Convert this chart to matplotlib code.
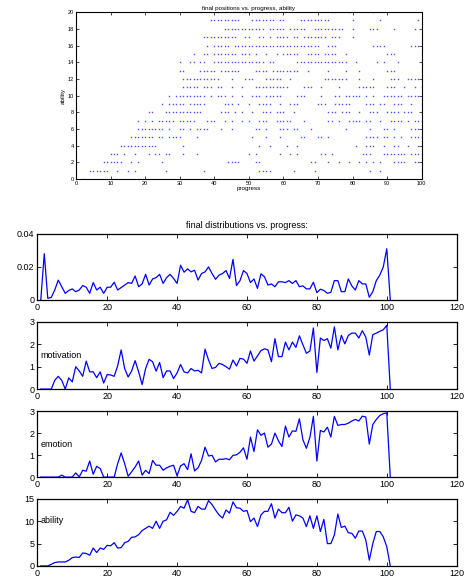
import numpy as np
import matplotlib
matplotlib.use('Agg')
import matplotlib.pyplot as plt

plt.rcParams['font.family'] = ['Liberation Sans', 'DejaVu Sans']

# ---- final positions (progress values at each ability level) ----
ab_00 = [2]
ab_01 = [4, 5, 6, 7, 8, 9, 12, 15, 17, 26, 37, 53, 54, 55, 56, 63, 69, 85, 88, 100]
ab_02 = [8, 9, 10, 11, 12, 13, 16, 18, 25, 44, 45, 46, 47, 52, 53, 68, 69, 73, 76, 79, 82, 84, 86, 88,
         92, 93, 94, 95, 98, 99, 100]
ab_03 = [10, 11, 12, 14, 17, 21, 23, 24, 26, 27, 31, 35, 50, 52, 59, 62, 64, 71, 72, 74, 83, 84, 85,
         89, 90, 91, 92, 93, 94, 95, 97, 98, 99, 100]
ab_04 = [13, 14, 15, 16, 17, 18, 19, 20, 21, 22, 23, 31, 53, 56, 61, 64, 81, 84, 85, 86, 89, 92, 93,
         96, 99, 100]
ab_05 = [16, 17, 18, 19, 20, 21, 22, 24, 25, 27, 28, 29, 30, 35, 51, 55, 59, 65, 66, 70, 71, 73,
         84, 85, 86, 87, 89, 90, 92, 94, 97, 98, 99, 100]
ab_06 = [18, 19, 20, 21, 22, 23, 24, 25, 27, 30, 31, 33, 35, 36, 37, 38, 42, 45, 52, 53, 55, 59, 60,
         61, 63, 64, 68, 78, 85, 89, 90, 92, 97, 98, 99, 100]
ab_07 = [18, 20, 22, 24, 25, 26, 27, 28, 30, 31, 32, 33, 34, 38, 39, 40, 43, 45, 48, 50, 53, 54, 55,
         58, 59, 60, 61, 62, 66, 73, 74, 76, 79, 80, 81, 82, 84, 85, 88, 91, 92, 93, 94, 96, 98, 99, 100]
ab_08 = [21, 22, 26, 27, 28, 29, 30, 31, 32, 33, 34, 35, 36, 42, 43, 44, 46, 48, 51, 54, 55, 56, 58,
         59, 60, 63, 73, 74, 75, 77, 78, 79, 82, 85, 86, 87, 90, 91, 92, 93, 95, 96, 97, 100]
ab_09 = [25, 27, 28, 29, 30, 31, 33, 34, 35, 36, 37, 43, 44, 45, 47, 50, 53, 54, 55, 56, 59, 62, 63,
         64, 70, 71, 72, 75, 76, 77, 78, 79, 84, 85, 86, 88, 89, 92, 93, 94, 97, 100]
ab_10 = [27, 29, 30, 31, 32, 33, 34, 35, 36, 37, 39, 41, 42, 43, 45, 48, 51, 52, 53, 55, 56, 57, 58,
         59, 64, 65, 66, 71, 75, 76, 78, 79, 80, 81, 82, 84, 86, 89, 90, 91, 92, 93, 94, 96, 97, 98,
         99, 100]
ab_11 = [31, 32, 33, 34, 35, 37, 38, 39, 41, 42, 45, 48, 52, 53, 54, 55, 56, 57, 58, 59, 60, 61, 66,
         67, 68, 71, 76, 82, 83, 84, 85, 86, 90, 91, 92, 95, 98, 100]
ab_12 = [31, 32, 33, 34, 35, 36, 37, 38, 39, 40, 41, 45, 49, 50, 51, 55, 56, 57, 58, 59, 62, 72, 73,
         74, 75, 76, 77, 78, 82, 86, 91, 92, 93, 96, 97, 98, 99, 100]
ab_13 = [30, 31, 36, 37, 38, 39, 40, 42, 43, 44, 45, 46, 47, 52, 53, 54, 55, 57, 58, 59, 60, 61, 62,
         63, 64, 67, 73, 78, 82, 90, 91, 92, 100]
ab_14 = [30, 33, 34, 36, 37, 40, 41, 42, 43, 44, 45, 46, 47, 48, 49, 50, 51, 52, 53, 54, 56, 57, 64,
         65, 66, 67, 68, 69, 70, 71, 72, 73, 74, 75, 76, 77, 78, 81, 87, 89, 93, 100]
ab_15 = [34, 37, 38, 40, 41, 42, 43, 44, 45, 46, 48, 49, 50, 52, 55, 58, 60, 61, 62, 63, 64, 67, 68,
         69, 70, 72, 73, 74, 75, 78, 90, 91, 92, 100]
ab_16 = [38, 40, 41, 42, 43, 44, 46, 47, 48, 49, 50, 51, 52, 53, 54, 55, 56, 57, 58, 59, 60, 61, 62,
         63, 64, 65, 66, 67, 68, 69, 70, 73, 74, 75, 86, 87, 88, 89, 97, 98, 99]
ab_17 = [37, 38, 39, 40, 41, 42, 43, 44, 45, 46, 49, 50, 53, 54, 56, 58, 59, 60, 61, 63, 64, 66, 67,
         68, 69, 70, 71, 72, 74, 75, 76, 80]
ab_18 = [43, 44, 45, 46, 47, 48, 49, 50, 51, 52, 53, 54, 56, 57, 58, 59, 60, 62, 63, 64, 65, 66, 69,
         70, 71, 72, 73, 74, 75, 76, 77, 80, 85, 86, 87, 92, 98, 100]
ab_19 = [39, 40, 41, 42, 43, 44, 45, 46, 47, 51, 52, 53, 54, 55, 56, 57, 59, 60, 65, 66, 67, 68, 69,
         70, 71, 72, 73, 80, 88, 99]
ab_20 = [41, 42, 43, 49, 50, 51, 53, 54, 55, 56, 74, 75, 79, 86]

rows = [ab_00, ab_01, ab_02, ab_03, ab_04, ab_05, ab_06, ab_07, ab_08, ab_09, ab_10,
        ab_11, ab_12, ab_13, ab_14, ab_15, ab_16, ab_17, ab_18, ab_19, ab_20]

# ---- final distributions vs progress ----
progress = np.arange(1, 102)
density = [0, 0.028, 0.001, 0.0015, 0.006, 0.012, 0.008, 0.004, 0.0057, 0.0067,
           0.005, 0.006, 0.0087, 0.0077, 0.004, 0.0105, 0.006, 0.0077, 0.004, 0.0077,
           0.0077, 0.0107, 0.006, 0.0075, 0.009, 0.0105, 0.010, 0.0145, 0.008, 0.0097,
           0.0155, 0.009, 0.0127, 0.0135, 0.0155, 0.010, 0.0135, 0.0155, 0.013, 0.010,
           0.021, 0.0168, 0.0188, 0.017, 0.018, 0.012, 0.016, 0.017, 0.020, 0.016,
           0.0125, 0.015, 0.016, 0.0178, 0.013, 0.0246, 0.0087, 0.0117, 0.0178, 0.016,
           0.0105, 0.0127, 0.007, 0.0158, 0.014, 0.009, 0.0097, 0.008, 0.011, 0.011,
           0.0105, 0.0117, 0.010, 0.0117, 0.008, 0.0085, 0.0067, 0.0067, 0.0107, 0.0044,
           0.0065, 0.0057, 0.004, 0.0046, 0.0117, 0.0117, 0.005, 0.005, 0.0127, 0.0085,
           0.006, 0.0117, 0.0097, 0.0097, 0.0016, 0.005, 0.0117, 0.015, 0.020, 0.031, 0]
motivation = [0, 0, 0, 0, 0.39, 0.57, 0.39, 0, 0.5, 0.32,
              1.0, 0.81, 0.57, 1.25, 0.77, 0.77, 0.51, 0.77, 0.27, 0.65,
              0.63, 0.57, 1.04, 1.75, 0.92, 0.54, 0.81, 1.27, 0.77, 0.2,
              0.92, 1.33, 1.22, 0.8, 1.19, 0.51, 0.81, 0.81, 0.47, 0.72,
              1.1, 0.77, 0.72, 0.92, 0.81, 0.84, 0.72, 1.78, 1.3, 0.92,
              0.97, 1.15, 1.1, 1.0, 0.89, 1.3, 1.03, 1.37, 1.34, 1.15,
              1.7, 1.25, 1.48, 1.72, 1.8, 1.75, 1.22, 2.25, 1.45, 1.45,
              2.1, 1.75, 2.1, 1.86, 2.38, 1.98, 1.6, 1.7, 2.73, 0.74,
              2.28, 2.17, 2.25, 1.83, 2.78, 1.75, 2.4, 2.02, 2.4, 2.5,
              2.5, 2.28, 2.61, 2.32, 1.52, 2.43, 2.5, 2.58, 2.65, 2.85, 0]
emotion = [0, 0, 0, 0, 0, 0, 0.09, 0, 0, 0,
           0.19, 0.01, 0.31, 0.27, 0.73, 0.13, 0.49, 0.39, 0, 0,
           0, 0, 0.61, 1.1, 0.61, 0.04, 0.24, 0.46, 0.73, 0.09,
           0.31, 0.16, 0.76, 0.54, 0.54, 0.31, 0.42, 0.49, 0.54, 0.06,
           0.51, 0.61, 0.34, 1.06, 0.28, 0.42, 0.76, 1.36, 0.96, 0.99,
           0.69, 0.81, 0.81, 0.84, 0.79, 0.99, 1.01, 1.13, 1.33, 0.81,
           1.82, 1.16, 2.15, 1.9, 2.0, 1.36, 1.5, 2.0, 1.65, 1.39,
           2.32, 1.82, 2.1, 2.08, 2.65, 1.7, 1.31, 1.8, 2.76, 0.73,
           2.12, 2.05, 2.27, 1.82, 2.76, 2.35, 2.39, 2.39, 2.45, 2.55,
           2.62, 2.55, 2.77, 2.73, 1.5, 2.39, 2.62, 2.8, 2.88, 2.92, 0]
ability = [0, 0, 0, 0.37, 0.75, 0.9, 0.9, 0.9, 1.27, 1.87,
           2.0, 1.9, 2.9, 2.8, 2.4, 4.0, 3.0, 4.0, 3.7, 4.6,
           4.5, 5.2, 4.0, 4.1, 5.2, 5.5, 6.4, 6.5, 7.0, 7.9,
           8.4, 8.9, 8.4, 10.0, 8.4, 10.0, 10.3, 12.0, 11.3, 12.2,
           13.3, 12.9, 14.8, 12.2, 11.9, 13.3, 12.7, 12.7, 14.6, 13.7,
           12.5, 11.4, 10.7, 12.5, 11.8, 14.3, 13.0, 12.9, 12.2, 12.4,
           9.9, 10.7, 8.8, 11.4, 12.2, 12.2, 13.9, 10.7, 12.7, 11.9,
           11.9, 13.1, 10.0, 11.4, 11.2, 10.7, 8.8, 11.2, 8.4, 11.2,
           7.7, 10.4, 5.0, 5.0, 6.9, 11.6, 8.6, 8.9, 7.4, 7.3,
           6.2, 7.8, 7.8, 5.8, 1.3, 5.0, 7.7, 7.7, 6.5, 4.3, 0]

fig = plt.figure(figsize=(4.66, 5.79), dpi=100)

# 上面的散点图
ax0 = fig.add_axes([0.163, 0.691, 0.742, 0.288])
for lev, xs in enumerate(rows):
    ax0.plot(xs, [lev] * len(xs), linestyle='none', marker='s', markersize=1.0,
             markeredgewidth=0, color='#3030ff', alpha=0.85)
ax0.set_xlim(0, 100)
ax0.set_ylim(0, 20)
ax0.set_xticks(np.arange(0, 101, 10))
ax0.set_yticks(np.arange(0, 21, 2))
ax0.tick_params(direction='in', top=True, right=True, labelsize=4, length=2, width=0.5, pad=1.5)
ax0.set_title('final positions vs. progress, ability', fontsize=4.5, pad=1.5)
ax0.set_xlabel('progress', fontsize=4.5, labelpad=0)
ax0.set_ylabel('ability', fontsize=4.5, labelpad=1)
for s in ax0.spines.values():
    s.set_linewidth(0.8)

# 下面四个曲线图
left, width = 0.080, 0.900
bottoms = [0.482, 0.328, 0.176, 0.0225]
heights = [0.114, 0.116, 0.114, 0.116]
series = [density, motivation, emotion, ability]
ylims = [(0, 0.04), (0, 3), (0, 3), (0, 15)]
yticks = [[0, 0.02, 0.04], [0, 1, 2, 3], [0, 1, 2, 3], [0, 5, 10, 15]]
yticklabels = [['0', '0.02', '0.04'], ['0', '1', '2', '3'], ['0', '1', '2', '3'],
               ['0', '5', '10', '15']]
names = [None, 'motivation', 'emotion', 'ability']
name_y = [None, 1.5, 1.5, 10.1]

for i in range(4):
    ax = fig.add_axes([left, bottoms[i], width, heights[i]])
    ax.plot(progress, series[i], color='#0000ff', linewidth=0.9)
    ax.set_xlim(0, 120)
    ax.set_ylim(*ylims[i])
    ax.set_xticks(np.arange(0, 121, 20))
    ax.set_yticks(yticks[i])
    ax.set_yticklabels(yticklabels[i])
    ax.tick_params(direction='in', top=True, right=True, labelsize=6.5, length=3, width=0.6, pad=2)
    for s in ax.spines.values():
        s.set_linewidth(0.9)
    if names[i]:
        ax.text(1, name_y[i], names[i], fontsize=6.5, ha='left', va='center')
    if i == 0:
        ax.set_title('final distributions vs. progress:', fontsize=6.5, pad=4)

fig.savefig('out.png', dpi=100)
